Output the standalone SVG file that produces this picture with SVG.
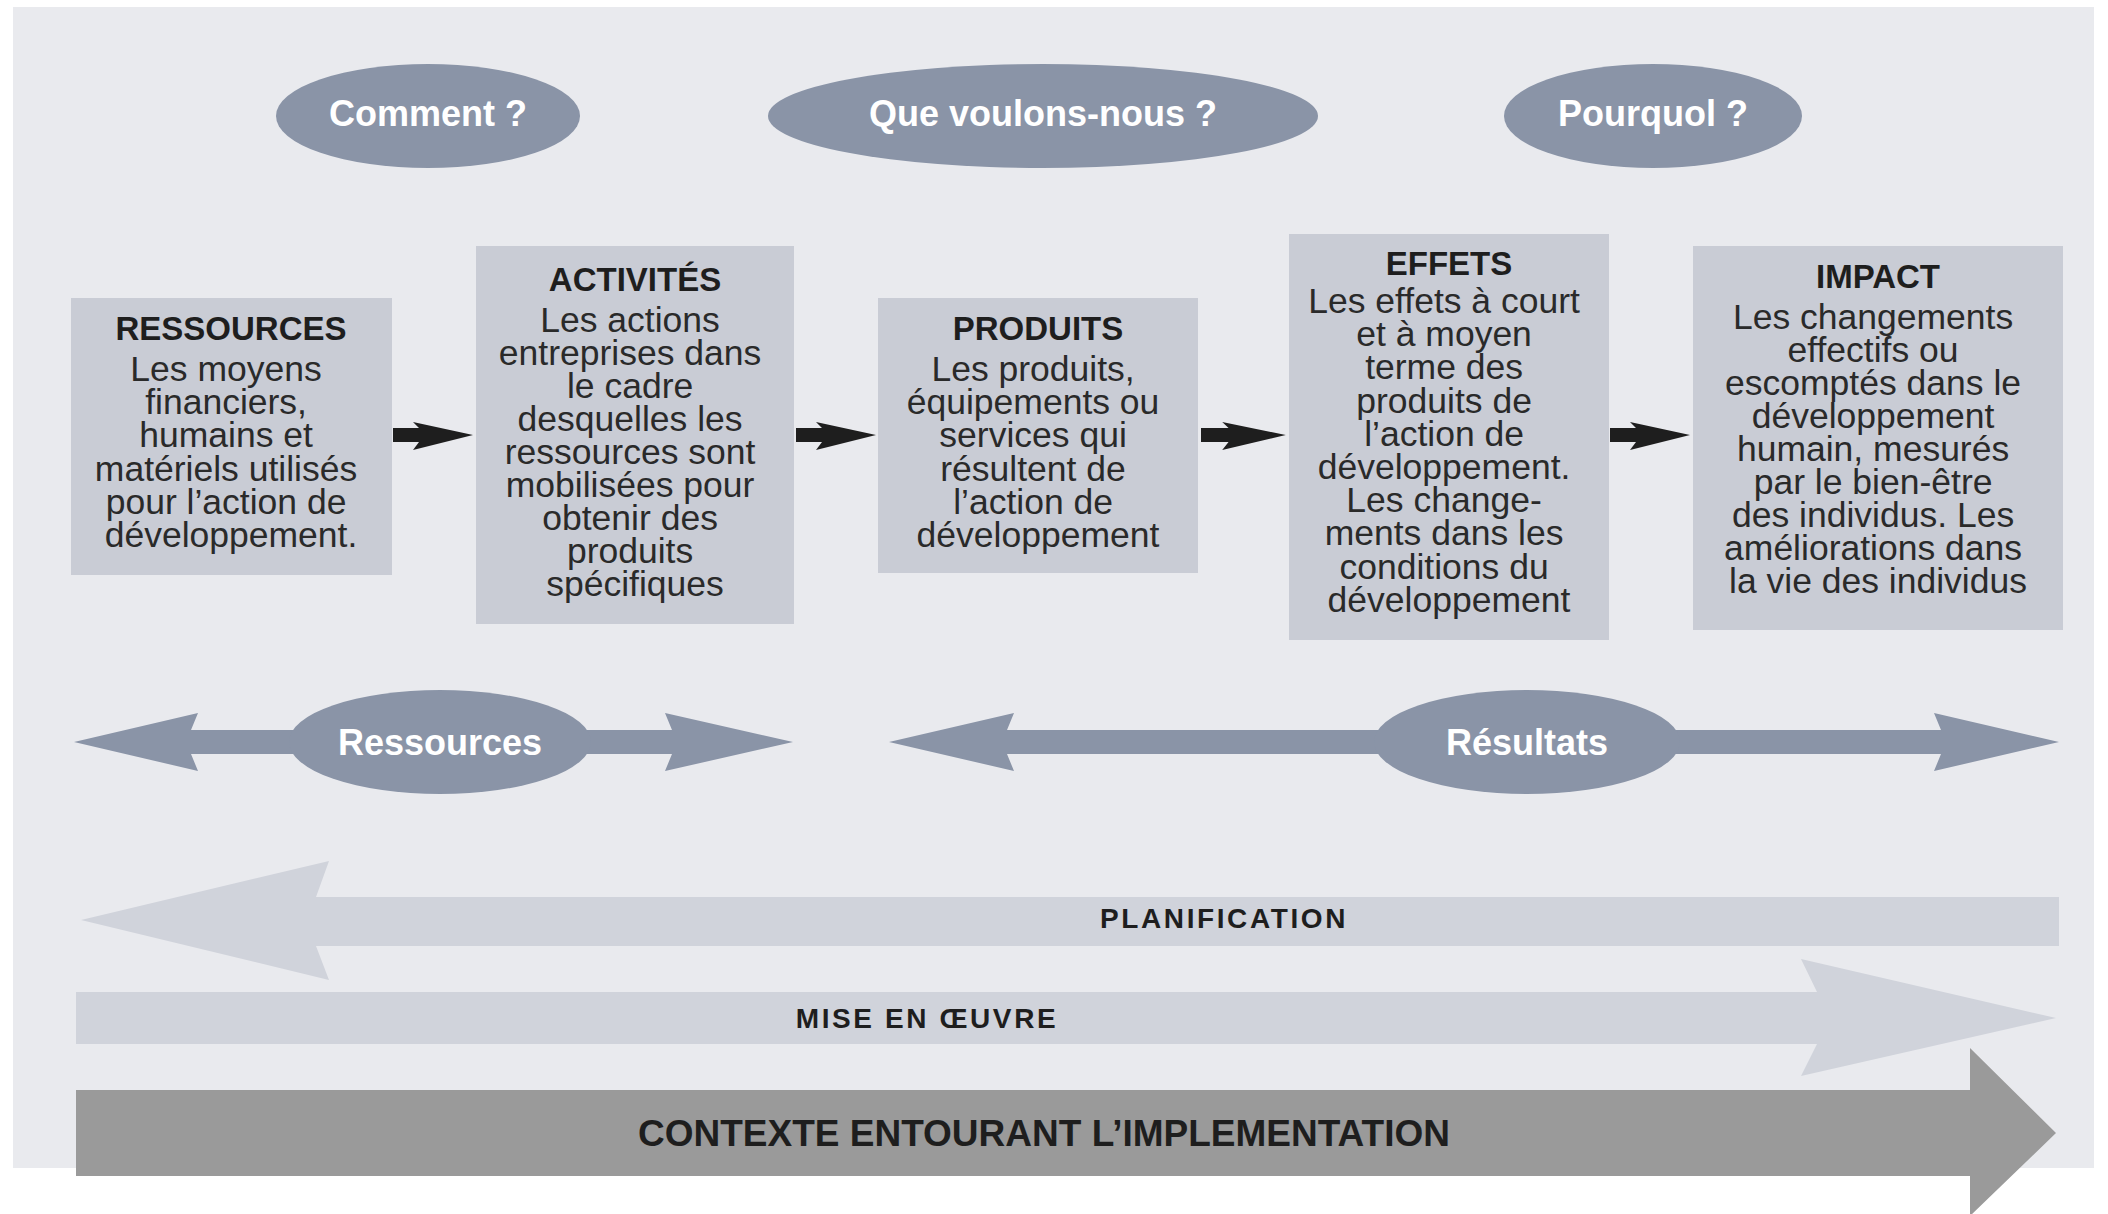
<svg xmlns="http://www.w3.org/2000/svg" width="2108" height="1214" viewBox="0 0 2108 1214">
  <defs>
    <style>
      .bg { fill: #e9eaee; }
      .oval { fill: #8a94a7; }
      .oval-text { font-family: "Liberation Sans", Arial, sans-serif; font-weight: bold; font-size: 36px; fill: #ffffff; text-anchor: middle; }
      .box { fill: #c9ccd5; }
      .title { font-family: "Liberation Sans", Arial, sans-serif; font-weight: bold; font-size: 33px; fill: #1e1e1e; text-anchor: middle; }
      .body { font-family: "Liberation Sans", Arial, sans-serif; font-size: 35.5px; fill: #2a2a2a; text-anchor: middle; }
      .span-arrow { fill: #8a94a7; }
      .phase-arrow { fill: #d0d3db; }
      .phase-text { font-family: "Liberation Sans", Arial, sans-serif; font-weight: bold; font-size: 28px; letter-spacing: 2.6px; fill: #1e1e1e; text-anchor: middle; }
      .context-arrow { fill: #9a9a9a; }
      .context-text { font-family: "Liberation Sans", Arial, sans-serif; font-weight: bold; font-size: 37px; fill: #1e1e1e; text-anchor: middle; }
      .flow { fill: #1e1e1e; }
    </style>
    <path id="flow-arrow" d="M0,-7 H26 L20,-13 L80,0 L20,15 L26,7 H0 Z"/>
  </defs>

  <rect width="2108" height="1214" fill="#ffffff"/>
  <rect class="bg" x="13" y="7" width="2081" height="1161"/>

  <!-- Question ovals -->
  <g id="q-comment">
    <ellipse class="oval" cx="428" cy="116" rx="152" ry="52"/>
    <text class="oval-text" x="428" y="126">Comment ?</text>
  </g>
  <g id="q-que-voulons-nous">
    <ellipse class="oval" cx="1043" cy="116" rx="275" ry="52"/>
    <text class="oval-text" x="1043" y="126">Que voulons-nous ?</text>
  </g>
  <g id="q-pourquoi">
    <ellipse class="oval" cx="1653" cy="116" rx="149" ry="52"/>
    <text class="oval-text" x="1653" y="126">Pourquol ?</text>
  </g>

  <!-- Boxes -->
  <g id="ressources">
    <rect class="box" x="71" y="298" width="321" height="277"/>
    <text class="title" x="231" y="340">RESSOURCES</text>
    <text class="body" x="231" y="381">
      <tspan x="231" dy="0">Les moyens</tspan>
      <tspan x="231" dy="33.2">financiers,</tspan>
      <tspan x="231" dy="33.2">humains et</tspan>
      <tspan x="231" dy="33.2">matériels utilisés</tspan>
      <tspan x="231" dy="33.2">pour l’action de</tspan>
      <tspan x="231" dy="33.2">développement.</tspan>
    </text>
  </g>

  <g id="activites">
    <rect class="box" x="476" y="246" width="318" height="378"/>
    <text class="title" x="635" y="291">ACTIVITÉS</text>
    <text class="body" x="635" y="332">
      <tspan x="635" dy="0">Les actions</tspan>
      <tspan x="635" dy="33">entreprises dans</tspan>
      <tspan x="635" dy="33">le cadre</tspan>
      <tspan x="635" dy="33">desquelles les</tspan>
      <tspan x="635" dy="33">ressources sont</tspan>
      <tspan x="635" dy="33">mobilisées pour</tspan>
      <tspan x="635" dy="33">obtenir des</tspan>
      <tspan x="635" dy="33">produits</tspan>
      <tspan x="635" dy="33">spécifiques</tspan>
    </text>
  </g>

  <g id="produits">
    <rect class="box" x="878" y="298" width="320" height="275"/>
    <text class="title" x="1038" y="340">PRODUITS</text>
    <text class="body" x="1038" y="381">
      <tspan x="1038" dy="0">Les produits,</tspan>
      <tspan x="1038" dy="33.2">équipements ou</tspan>
      <tspan x="1038" dy="33.2">services qui</tspan>
      <tspan x="1038" dy="33.2">résultent de</tspan>
      <tspan x="1038" dy="33.2">l’action de</tspan>
      <tspan x="1038" dy="33.2">développement</tspan>
    </text>
  </g>

  <g id="effets">
    <rect class="box" x="1289" y="234" width="320" height="406"/>
    <text class="title" x="1449" y="275">EFFETS</text>
    <text class="body" x="1449" y="313">
      <tspan x="1449" dy="0">Les effets à court</tspan>
      <tspan x="1449" dy="33.2">et à moyen</tspan>
      <tspan x="1449" dy="33.2">terme des</tspan>
      <tspan x="1449" dy="33.2">produits de</tspan>
      <tspan x="1449" dy="33.2">l’action de</tspan>
      <tspan x="1449" dy="33.2">développement.</tspan>
      <tspan x="1449" dy="33.2">Les change-</tspan>
      <tspan x="1449" dy="33.2">ments dans les</tspan>
      <tspan x="1449" dy="33.2">conditions du</tspan>
      <tspan x="1449" dy="33.2">développement</tspan>
    </text>
  </g>

  <g id="impact">
    <rect class="box" x="1693" y="246" width="370" height="384"/>
    <text class="title" x="1878" y="288">IMPACT</text>
    <text class="body" x="1878" y="329">
      <tspan x="1878" dy="0">Les changements</tspan>
      <tspan x="1878" dy="33">effectifs ou</tspan>
      <tspan x="1878" dy="33">escomptés dans le</tspan>
      <tspan x="1878" dy="33">développement</tspan>
      <tspan x="1878" dy="33">humain, mesurés</tspan>
      <tspan x="1878" dy="33">par le bien-être</tspan>
      <tspan x="1878" dy="33">des individus. Les</tspan>
      <tspan x="1878" dy="33">améliorations dans</tspan>
      <tspan x="1878" dy="33">la vie des individus</tspan>
    </text>
  </g>

  <!-- Flow connectors -->
  <g id="connectors">
    <use href="#flow-arrow" class="flow" transform="translate(393,435)"/>
    <use href="#flow-arrow" class="flow" transform="translate(796,435)"/>
    <use href="#flow-arrow" class="flow" transform="translate(1201,435) scale(1.06,1)"/>
    <use href="#flow-arrow" class="flow" transform="translate(1610,435)"/>
  </g>

  <!-- Span arrows -->
  <g id="span-ressources">
    <path class="span-arrow" d="M74,742 L198,713 L191,730 L672,730 L665,713 L793,742 L665,771 L672,754 L191,754 L198,771 Z"/>
    <ellipse class="oval" cx="440" cy="742" rx="151" ry="52"/>
    <text class="oval-text" x="440" y="755">Ressources</text>
  </g>
  <g id="span-resultats">
    <path class="span-arrow" d="M889,742 L1014,713 L1007,730 L1941,730 L1934,713 L2059,742 L1934,771 L1941,754 L1007,754 L1014,771 Z"/>
    <ellipse class="oval" cx="1527" cy="742" rx="153" ry="52"/>
    <text class="oval-text" x="1527" y="755">Résultats</text>
  </g>

  <!-- Phase arrows -->
  <g id="planification">
    <path class="phase-arrow" d="M81,920 L329,861 L316,897 L2059,897 L2059,946 L316,946 L329,980 Z"/>
    <text class="phase-text" x="1224" y="928">PLANIFICATION</text>
  </g>
  <g id="mise-en-oeuvre">
    <path class="phase-arrow" d="M76,992 L1817,992 L1801,959 L2056,1018 L1801,1076 L1817,1044 L76,1044 Z"/>
    <text class="phase-text" x="927" y="1028">MISE EN ŒUVRE</text>
  </g>
  <g id="contexte">
    <path class="context-arrow" d="M76,1090 L1970,1090 L1970,1048 L2056,1133 L1970,1216 L1970,1176 L76,1176 Z"/>
    <text class="context-text" x="1044" y="1146">CONTEXTE ENTOURANT L’IMPLEMENTATION</text>
  </g>
</svg>
